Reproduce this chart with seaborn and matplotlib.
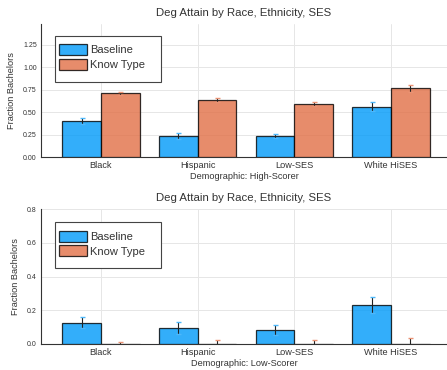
import matplotlib
matplotlib.use("Agg")
import matplotlib.pyplot as plt
from matplotlib.patches import Patch, Rectangle
import seaborn as sns
import pandas as pd

categories = ["Black", "Hispanic", "Low-SES", "White HiSES"]
series = ["Baseline", "Know Type"]

high_baseline = [0.40, 0.235, 0.238, 0.563]
high_baseline_err = [0.035, 0.035, 0.025, 0.047]
high_know = [0.709, 0.638, 0.589, 0.768]
high_know_err = [0.012, 0.02, 0.02, 0.038]

low_baseline = [0.127, 0.097, 0.083, 0.232]
low_baseline_err = [0.031, 0.035, 0.028, 0.045]
low_know = [0.001, 0.001, 0.001, 0.001]
low_know_err = [0.012, 0.022, 0.02, 0.037]

title = "Deg Attain by Race, Ethnicity, SES"
ylabel = "Fraction Bachelors"
xlabel_high = "Demographic: High-Scorer"
xlabel_low = "Demographic: Low-Scorer"
yticks_high = [0.0, 0.25, 0.5, 0.75, 1.0, 1.25]
yticks_low = [0.0, 0.2, 0.4, 0.6, 0.8]

colors = ["#009AF9", "#E26F46"]
cap_colors = ["#4DB8FB", "#EB9374"]
text_color = "#333333"

sns.set_theme(style="white")
plt.rcParams["font.family"] = ["Liberation Sans", "DejaVu Sans"]

W, H = 447, 370
fig = plt.figure(figsize=(W / 100, H / 100), dpi=100)
# axes in pixel terms: left, top, width, height
ax1_px = (41, 24.0, 406, 133.3)
ax2_px = (41, 209.3, 406, 134.7)


def make_axes(px):
    l, t, w, h = px
    return fig.add_axes([l / W, (H - t - h) / H, w / W, h / H])


ax1 = make_axes(ax1_px)
ax2 = make_axes(ax2_px)


def draw(ax, px, base, base_err, know, know_err, xlabel, yticks, ylim, fmt,
         frame_top, patch_top):
    _, _, aw, ah = px
    df = pd.DataFrame({
        "Demographic": categories * 2,
        "Series": [series[0]] * 4 + [series[1]] * 4,
        "Value": list(base) + list(know),
    })
    errs = list(base_err) + list(know_err)
    sns.barplot(data=df, x="Demographic", y="Value", hue="Series",
                palette=colors, saturation=1, alpha=0.8, errorbar=None,
                edgecolor="black", linewidth=0.9, width=0.8, ax=ax,
                legend=False, zorder=3)
    for i, p in enumerate(list(ax.patches)):
        cx = p.get_x() + p.get_width() / 2
        val = df["Value"].iloc[i]
        col = cap_colors[0] if i < 4 else cap_colors[1]
        _, caps, _ = ax.errorbar(cx, val, yerr=errs[i], fmt="none",
                                 ecolor="#222222", elinewidth=0.8,
                                 capsize=1.8, capthick=1.0, zorder=4)
        for c in caps:
            c.set_markeredgecolor(col)
            c.set_color(col)
    ax.set_xlim(-0.62, 3.58)
    ax.set_ylim(*ylim)
    ax.set_yticks(yticks)
    ax.set_yticklabels([fmt.format(v) for v in yticks])
    ax.set_title(title, fontsize=8.2, color=text_color, pad=6)
    ax.set_xlabel(xlabel, fontsize=6.6, color=text_color, labelpad=1)
    ax.set_ylabel(ylabel, fontsize=6.6, color=text_color, labelpad=5)
    ax.tick_params(axis="x", labelsize=6.6, colors=text_color, length=0, pad=3)
    ax.tick_params(axis="y", labelsize=5.0, colors=text_color, length=2,
                   direction="in", pad=3)
    ax.grid(True, color="#e6e6e6", linewidth=0.7, zorder=0)
    ax.set_axisbelow(True)
    for s in ["top", "right"]:
        ax.spines[s].set_visible(False)
    for s in ["left", "bottom"]:
        ax.spines[s].set_color("#333333")
        ax.spines[s].set_linewidth(0.8)
    # legend frame
    fh = 46.0
    ax.add_patch(Rectangle((14 / aw, 1 - (frame_top + fh) / ah), 106 / aw, fh / ah,
                           transform=ax.transAxes, facecolor="white",
                           edgecolor="#444444", linewidth=0.8, zorder=6,
                           clip_on=False))
    handles = [Patch(facecolor=colors[0], alpha=0.8, edgecolor="black", linewidth=0.9),
               Patch(facecolor=colors[1], alpha=0.8, edgecolor="black", linewidth=0.9)]
    leg = ax.legend(handles, series, loc="upper left",
                    bbox_to_anchor=(18 / aw, 1 - patch_top / ah),
                    fontsize=8, frameon=False,
                    handlelength=2.5, handleheight=1.12, handletextpad=0.3,
                    labelspacing=0.32, borderpad=0, borderaxespad=0)
    leg.set_zorder(7)
    for t in leg.get_texts():
        t.set_color(text_color)


draw(ax1, ax1_px, high_baseline, high_baseline_err, high_know, high_know_err,
     xlabel_high, yticks_high, (0, 1.48), "{:.2f}", 11.7, 20.3)
draw(ax2, ax2_px, low_baseline, low_baseline_err, low_know, low_know_err,
     xlabel_low, yticks_low, (0, 0.8), "{:.1f}", 13.0, 21.4)

fig.savefig("out.png", dpi=100)
